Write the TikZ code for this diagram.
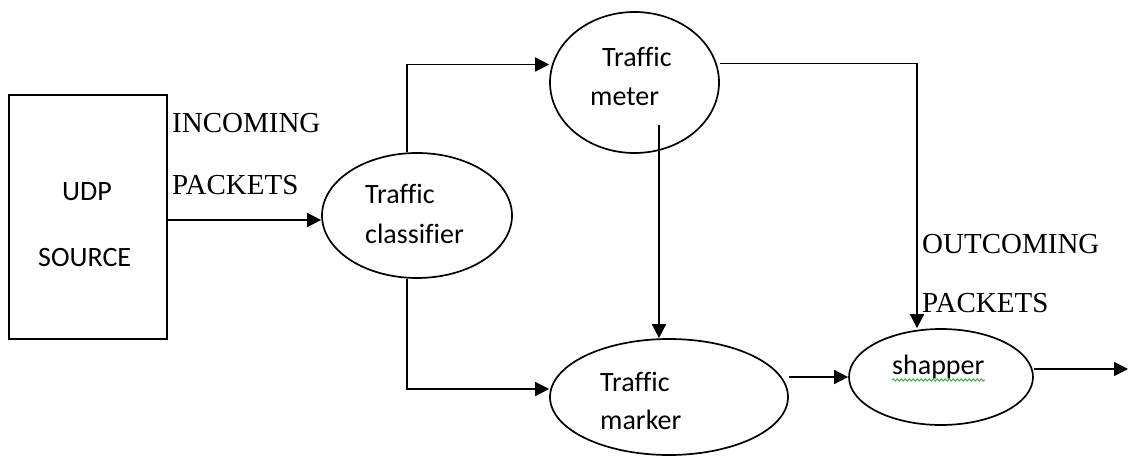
\documentclass[tikz,border=0pt]{standalone}
\usepackage{fontspec}
\setmainfont{Carlito}[Ligatures=NoCommon]
\newfontfamily\timesfont{Liberation Serif}
\usepackage{tikz}
\usetikzlibrary{arrows.meta,shapes.geometric,decorations.pathmorphing}

\definecolor{spell}{RGB}{40,170,40}

\begin{document}
\begin{tikzpicture}[x=1pt,y=-1pt,
    >={Triangle[length=14pt,width=14pt]},
    box/.style={draw,line width=1.8pt,inner sep=0pt},
    blob/.style={draw,ellipse,line width=1.7pt,inner sep=0pt},
    word/.style={inner sep=0pt,anchor=base west,font=\fontsize{28}{32}\selectfont},
    caps/.style={inner sep=0pt,anchor=base west,font=\timesfont\fontsize{29}{34}\selectfont},
    flow/.style={->,line width=1.6pt}]

\useasboundingbox (0,0) rectangle (1129,457);

% source box and the four stages
\node[box,minimum width=158pt,minimum height=244pt] (udp) at (88,217) {};
\node[blob,minimum width=190pt,minimum height=125pt] (cls) at (417,215.5) {};
\node[blob,minimum width=169pt,minimum height=141pt] (meter) at (634.5,82.5) {};
\node[blob,minimum width=238pt,minimum height=116pt] (mrk) at (669,397) {};
\node[blob,minimum width=184pt,minimum height=96pt] (shp) at (941,377) {};

% labels inside the shapes
\foreach \n/\x/\y/\t in {udpa/62/200.5/UDP, udpb/38/266.5/SOURCE,
                         clsa/365/204/Traffic, clsb/365/243/classifier,
                         meta/602/67/Traffic, metb/590/106/meter,
                         mrka/600/391/Traffic, mrkb/600/429/marker,
                         shpa/892/374/shapper}
    \node[word] (\n) at (\x,\y) {\t};

% packet labels
\foreach \n/\x/\y/\t in {ina/172/133/INCOMING, inb/172/195/PACKETS,
                         outa/922/253/OUTCOMING, outb/922/312/PACKETS}
    \node[caps] (\n) at (\x,\y) {\t};

% spell-check underline
\draw[spell,line width=0.8pt,decorate,decoration={snake,amplitude=1.2pt,segment length=4pt}]
    ([yshift=-6pt]shpa.base west) -- ([yshift=-6pt]shpa.base east);

% connectors
\coordinate (tap) at (659,125);
\coordinate (exit) at (1128,369);

\draw[flow] ([yshift=-3pt]udp.east) -- ([yshift=-3pt]udp.east -| cls.west);
\draw[flow] ([xshift=-10pt]cls.north) |- ([yshift=18pt]meter.west);
\draw[flow] ([xshift=-10pt]cls.south) |- ([yshift=8pt]mrk.west);
\draw[flow] (tap) -- (tap |- mrk.north);
\draw[flow] ([yshift=19pt]meter.east) -| ([xshift=-24pt]shp.north);
\draw[flow] (shp.west -| mrk.east) -- (shp.west);
\draw[flow] ([yshift=8pt]shp.east) -- (exit);

\end{tikzpicture}
\end{document}
